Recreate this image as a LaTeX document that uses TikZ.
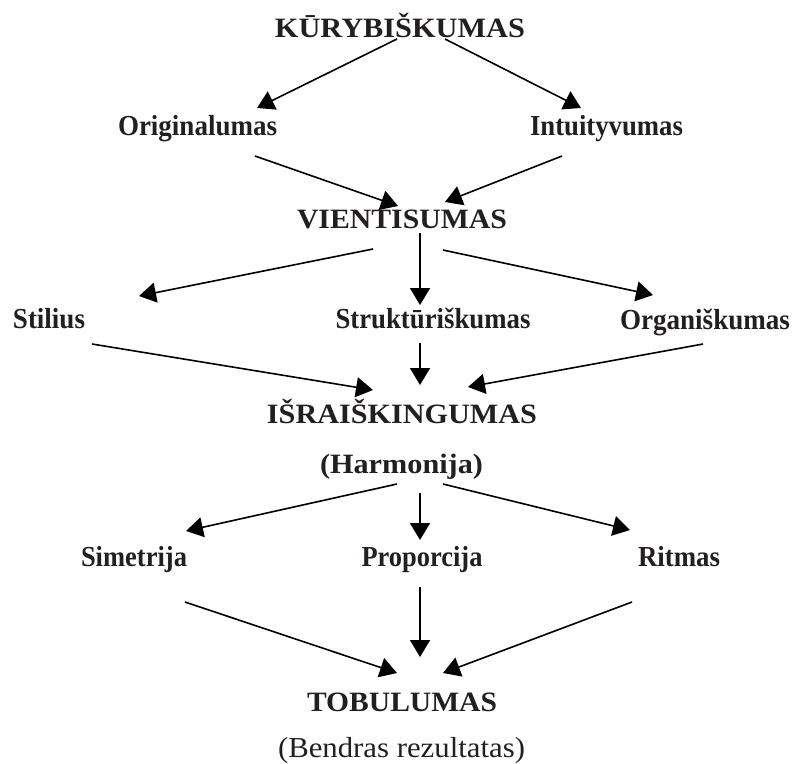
\documentclass[tikz,border=0pt]{standalone}
\usepackage{fontspec}
\setmainfont{Liberation Serif}
\usepackage{graphicx}
\usetikzlibrary{arrows.meta}
\definecolor{ink}{HTML}{231F20}
\newcommand\fitw[2]{\resizebox{#1}{\height}{#2}}
\newcommand\hfont{\bfseries\fontsize{28}{30}\selectfont}
\newcommand\lfont{\bfseries\fontsize{29}{31}\selectfont}
\newcommand\rfont{\fontsize{29}{32}\selectfont}
\begin{document}
\begin{tikzpicture}[x=1pt,y=-1pt,
  lbl/.style={anchor=base,inner sep=0pt,outer sep=0pt,text=ink},
  arr/.style={draw=black,line width=1.6pt,-{Triangle[length=17pt,width=20pt]}}]
\useasboundingbox (0,0) rectangle (794,763);
% nodes
\node[lbl] (kur) at (400,37) {\fitw{250pt}{\hfont KŪRYBIŠKUMAS}};
\node[lbl] (orig) at (197.5,135) {\fitw{159pt}{\lfont Originalumas}};
\node[lbl] (int) at (606.5,135) {\fitw{153pt}{\lfont Intuityvumas}};
\node[lbl] (vie) at (402,228) {\fitw{210pt}{\hfont VIENTISUMAS}};
\node[lbl] (sti) at (49,328) {\fitw{72pt}{\lfont Stilius}};
\node[lbl] (str) at (433,328) {\fitw{195pt}{\lfont Struktūriškumas}};
\node[lbl] (org) at (705,329) {\fitw{170pt}{\lfont Organiškumas}};
\node[lbl] (isr) at (402,423) {\fitw{270pt}{\hfont IŠRAIŠKINGUMAS}};
\node[lbl] (harm) at (401.5,473) {\fitw{163pt}{\hfont (Harmonija)}};
\node[lbl] (sim) at (134,566) {\fitw{106pt}{\lfont Simetrija}};
\node[lbl] (pro) at (422,566) {\fitw{121pt}{\lfont Proporcija}};
\node[lbl] (rit) at (679,566) {\fitw{82pt}{\lfont Ritmas}};
\node[lbl] (tob) at (402,711) {\fitw{190pt}{\hfont TOBULUMAS}};
\node[lbl] (ben) at (401.5,757) {\fitw{247pt}{\rfont (Bendras rezultatas)}};
% connectors
\draw[arr] ([shift={(-3,2)}]kur.base) -- ([shift={(59.5,-27)}]orig.base);
\draw[arr] ([shift={(45,2)}]kur.base) -- ([shift={(-25.5,-27)}]int.base);
\draw[arr] ([shift={(57.5,21)}]orig.base) -- ([shift={(-4,-22)}]vie.base);
\draw[arr] ([shift={(-44.5,21)}]int.base) -- ([shift={(43,-26)}]vie.base);
\draw[arr] ([shift={(-29,21)}]vie.base) -- ([shift={(90,-32)}]sti.base);
\draw[arr] ([shift={(18,5)}]vie.base) -- ([shift={(-13,-23)}]str.base);
\draw[arr] ([shift={(41,22)}]vie.base) -- ([shift={(-52,-34)}]org.base);
\draw[arr] ([shift={(43,16)}]sti.base) -- ([shift={(-29,-33)}]isr.base);
\draw[arr] ([shift={(-13,15)}]str.base) -- ([shift={(18,-38)}]isr.base);
\draw[arr] ([shift={(-2,15)}]org.base) -- ([shift={(66,-36)}]isr.base);
\draw[arr] ([shift={(-4.5,11)}]harm.base) -- ([shift={(52,-35)}]sim.base);
\draw[arr] ([shift={(18.5,20)}]harm.base) -- ([shift={(-2,-26)}]pro.base);
\draw[arr] ([shift={(41.5,11)}]harm.base) -- ([shift={(-49,-36)}]rit.base);
\draw[arr] ([shift={(51,36)}]sim.base) -- ([shift={(-5,-38)}]tob.base);
\draw[arr] ([shift={(-2,21)}]pro.base) -- ([shift={(18,-54)}]tob.base);
\draw[arr] ([shift={(-47,36)}]rit.base) -- ([shift={(41,-38)}]tob.base);
\end{tikzpicture}
\end{document}
